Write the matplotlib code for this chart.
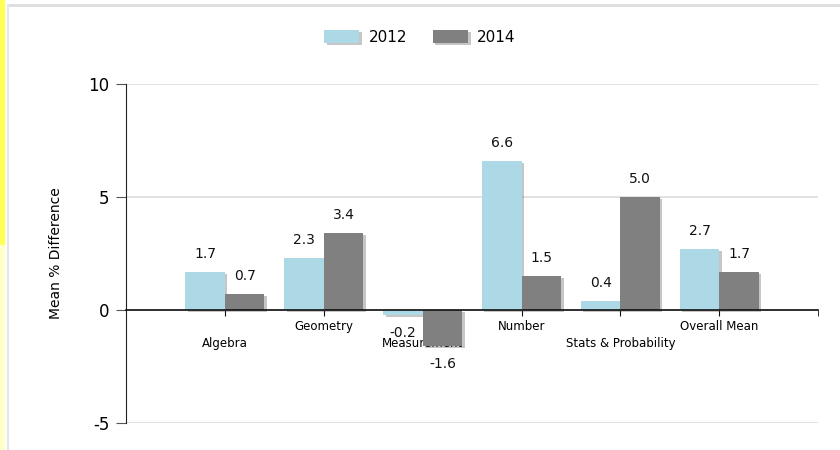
import numpy as np
import matplotlib
matplotlib.use("Agg")
import matplotlib.pyplot as plt
import matplotlib.patheffects as pe
from matplotlib.patches import Rectangle
from matplotlib.lines import Line2D

categories = ["Algebra", "Geometry", "Measurement", "Number", "Stats & Probability", "Overall Mean"]
vals_2012 = [1.7, 2.3, -0.2, 6.6, 0.4, 2.7]
vals_2014 = [0.7, 3.4, -1.6, 1.5, 5.0, 1.7]
series_names = ["2012", "2014"]
colors = ["#add8e6", "#808080"]

plt.rcParams['font.family'] = ['DejaVu Sans']

fig = plt.figure(figsize=(8.4, 4.5), dpi=100)
ax = fig.add_axes([0.15, 0.06, 0.824, 0.753])

# page decorations (yellow stripe and gray frame)
fig.patches.append(Rectangle((0, 0.455), 0.0045, 0.545, transform=fig.transFigure,
                             color="#ffff55", zorder=0))
fig.patches.append(Rectangle((0, 0), 0.0045, 0.455, transform=fig.transFigure,
                             color="#ffffc8", zorder=0))
fig.lines.append(Line2D([0.0095, 1], [0.989, 0.989], transform=fig.transFigure,
                        color="#dddddd", lw=2))
fig.lines.append(Line2D([0.0095, 0.0095], [0, 0.989], transform=fig.transFigure,
                        color="#e6e6e6", lw=1.5))

x = np.arange(1, len(categories) + 1)
w = 0.4
shadow = [pe.SimplePatchShadow(offset=(1.8, -1.5), shadow_rgbFace="#444444", alpha=0.3), pe.Normal()]

for i, (vals, off) in enumerate([(vals_2012, -w / 2), (vals_2014, w / 2)]):
    b = ax.bar(x + off, vals, width=w, color=colors[i], label=series_names[i], zorder=3)
    for r in b:
        r.set_path_effects(shadow)
    for xi, v in zip(x + off, vals):
        if v >= 0:
            ax.annotate(f"{v:.1f}", (xi, v), xytext=(0, 8), textcoords="offset points",
                        ha="center", va="bottom", fontsize=10, color="#111111")
        else:
            ax.annotate(f"{v:.1f}", (xi, v), xytext=(0, -8), textcoords="offset points",
                        ha="center", va="top", fontsize=10, color="#111111")

ax.set_xlim(0, 7)
ax.set_ylim(-5, 10)
ax.set_yticks([-5, 0, 5, 10])
ax.set_yticklabels(["-5", "0", "5", "10"], fontsize=12)
ax.grid(axis="y", color="#dddddd", lw=1.2, zorder=0)
ax.tick_params(axis="y", length=7, color="#555555", pad=5)
ax.set_ylabel("Mean % Difference", fontsize=10, labelpad=18)

ax.spines["top"].set_visible(False)
ax.spines["right"].set_visible(False)
ax.spines["bottom"].set_position(("data", 0))
ax.spines["bottom"].set_zorder(5)
ax.spines["left"].set_color("#222222")
ax.spines["bottom"].set_color("#111111")
ax.spines["bottom"].set_linewidth(1.2)

labels = [("\n" + c) if i % 2 == 0 else c for i, c in enumerate(categories)]
ax.set_xticks(x)
ax.set_xticklabels(labels, fontsize=8.5, linespacing=1.45)
ax.set_xticks([7], minor=True)
ax.tick_params(axis="x", which="both", length=4, direction="out", pad=3, color="#111111")

leg = fig.legend(loc="upper center", bbox_to_anchor=(0.5, 0.965), ncol=2, frameon=False,
                 fontsize=11, handlelength=2.3, handleheight=0.9, columnspacing=1.7,
                 handletextpad=0.6)
for h in leg.legend_handles:
    h.set_path_effects(shadow)

fig.savefig("out.png", dpi=100)
